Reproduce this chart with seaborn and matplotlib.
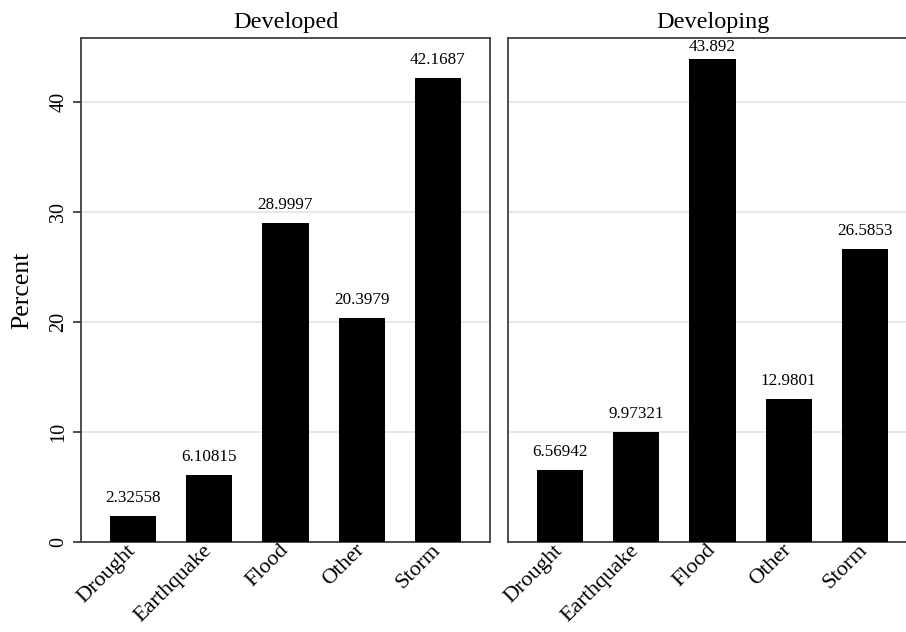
import matplotlib
matplotlib.use("Agg")
import matplotlib.pyplot as plt
import seaborn as sns
import pandas as pd

# values
categories = ["Drought", "Earthquake", "Flood", "Other", "Storm"]
developed = [2.32558, 6.10815, 28.9997, 20.3979, 42.1687]
developing = [6.56942, 9.97321, 43.892, 12.9801, 26.5853]
panels = ["Developed", "Developing"]
yticks = [0, 10, 20, 30, 40]

sns.set_style("white")
plt.rcParams["font.family"] = ["Liberation Serif", "DejaVu Serif"]
plt.rcParams["text.color"] = "black"
plt.rcParams["axes.labelcolor"] = "black"
plt.rcParams["xtick.color"] = "black"
plt.rcParams["ytick.color"] = "black"

fig = plt.figure(figsize=(9.06, 6.32), dpi=100)
W, H = 906, 632
spine_col = "#404040"
YMAX = 45.8
AX_H = 504  # axes height in px
px_per_unit = AX_H / YMAX


def draw_panel(ax, title, values, show_y):
    df = pd.DataFrame({"cat": categories, "pct": values})
    ax.yaxis.grid(True, color="#e3e3e3", linewidth=1.2)
    ax.set_axisbelow(True)
    sns.barplot(data=df, x="cat", y="pct", color="black", width=0.605,
                saturation=1, linewidth=0, edgecolor="black", ax=ax, zorder=3)
    for bar, v in zip(ax.patches, values):
        # squeeze the gap when the label would hit the top of the frame
        gap_px = min(10, (YMAX - v) * px_per_unit - 17)
        ax.annotate(f"{v:g}", (bar.get_x() + bar.get_width() / 2, v),
                    xytext=(0, gap_px * 0.72), textcoords="offset points",
                    ha="center", va="bottom", fontsize=12.3, color="black")
    ax.set_xlim(-0.684, len(categories) - 1 + 0.684)
    ax.set_ylim(0, YMAX)
    ax.set_yticks(yticks)
    ax.set_title(title, fontsize=17.5, pad=7, color="black")
    ax.set_xlabel("")
    for s in ax.spines.values():
        s.set_color(spine_col)
        s.set_linewidth(1.3)
        s.set_visible(True)
    ax.tick_params(axis="x", length=0, pad=4)
    plt.setp(ax.get_xticklabels(), rotation=45, ha="right", va="center",
             rotation_mode="anchor", fontsize=16)
    if show_y:
        ax.set_ylabel("Percent", fontsize=18.5, labelpad=12)
        ax.tick_params(axis="y", length=6, width=1.3, color=spine_col,
                       left=True, pad=3, labelsize=14.5, labelcolor="black")
        for lab in ax.get_yticklabels():
            lab.set_rotation(90)
            lab.set_ha("right")
            lab.set_va("center")
    else:
        ax.set_ylabel("")
        ax.tick_params(axis="y", length=0, labelleft=False)


ax1 = fig.add_axes([81 / W, 90 / H, 409 / W, AX_H / H])
ax2 = fig.add_axes([508 / W, 90 / H, 409 / W, AX_H / H])
draw_panel(ax1, panels[0], developed, True)
draw_panel(ax2, panels[1], developing, False)

fig.savefig("out.png", dpi=100)
